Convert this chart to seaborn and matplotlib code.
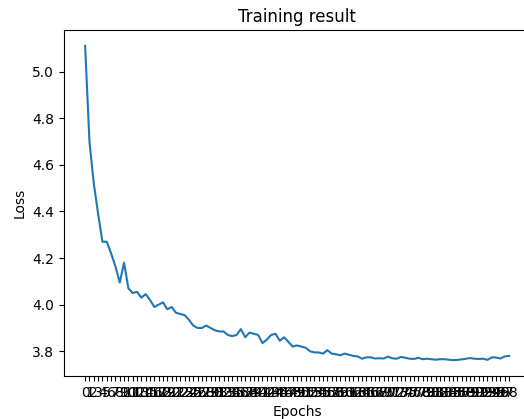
import numpy as np
import pandas as pd
import matplotlib
matplotlib.use("Agg")
import matplotlib.pyplot as plt
import seaborn as sns

# loss per epoch
epochs = [str(i) for i in range(99)]
loss = [
    5.11, 4.70, 4.52, 4.39, 4.27, 4.27, 4.22, 4.165, 4.095, 4.18,
    4.07, 4.05, 4.055, 4.03, 4.045, 4.02, 3.99, 4.00, 4.01, 3.98,
    3.99, 3.965, 3.96, 3.955, 3.935, 3.91, 3.90, 3.90, 3.91, 3.90,
    3.89, 3.885, 3.885, 3.87, 3.865, 3.87, 3.895, 3.86, 3.88, 3.875,
    3.87, 3.835, 3.85, 3.87, 3.875, 3.845, 3.86, 3.84, 3.82, 3.825,
    3.82, 3.815, 3.80, 3.795, 3.795, 3.79, 3.805, 3.79, 3.787, 3.783,
    3.79, 3.785, 3.78, 3.778, 3.768, 3.774, 3.774, 3.769, 3.77, 3.769,
    3.777, 3.77, 3.768, 3.776, 3.772, 3.768, 3.767, 3.772, 3.766, 3.768,
    3.766, 3.764, 3.766, 3.766, 3.764, 3.762, 3.763, 3.765, 3.768, 3.771,
    3.768, 3.767, 3.768, 3.763, 3.774, 3.773, 3.769, 3.778, 3.78,
]

df = pd.DataFrame({"epoch": epochs, "loss": loss})

fig = plt.figure(figsize=(5.24, 4.19), dpi=100)
# the reference is cropped on the right, so the axes run past the edge
ax = fig.add_axes([0.122, 0.103, 0.890, 0.825])
sns.lineplot(data=df, x="epoch", y="loss", ax=ax, color="#1f77b4", sort=False)
ax.set_title("Training result")
ax.set_xlabel("Epochs")
ax.set_ylabel("Loss")
fig.savefig("out.png", dpi=100)
